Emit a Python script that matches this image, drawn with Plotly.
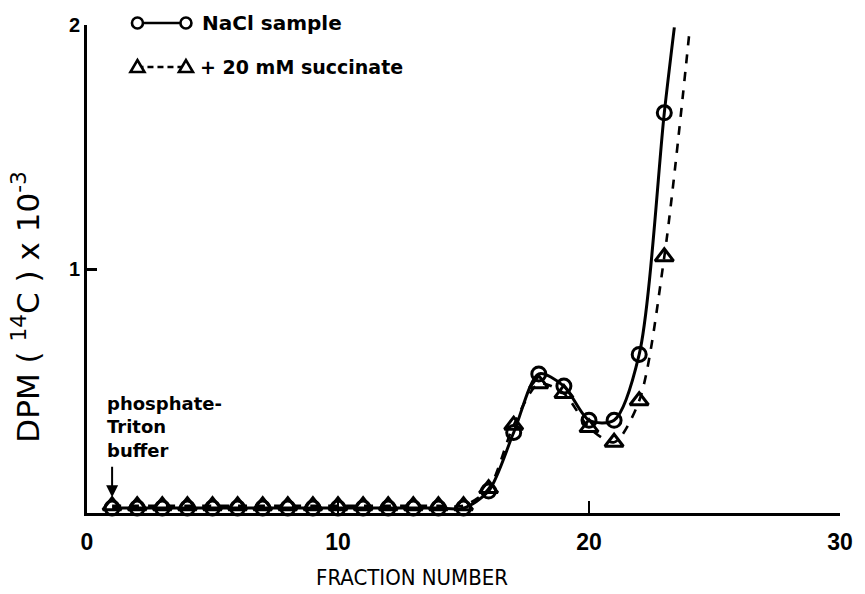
import plotly.graph_objects as go

fractions = list(range(1, 24))
nacl = [0.02, 0.02, 0.02, 0.02, 0.02, 0.02, 0.02, 0.02, 0.02, 0.02, 0.02, 0.02, 0.02, 0.02, 0.02,
        0.09, 0.33, 0.57, 0.52, 0.38, 0.38, 0.65, 1.64]
succinate = [0.03, 0.03, 0.03, 0.03, 0.03, 0.03, 0.03, 0.03, 0.03, 0.03, 0.03, 0.03, 0.03, 0.03, 0.03,
             0.10, 0.36, 0.53, 0.49, 0.35, 0.29, 0.46, 1.05]
# curve continuation beyond the last measured fraction (line only)
nacl_tail_x = [23.4]
nacl_tail_y = [1.99]
succ_tail_x = [24.0]
succ_tail_y = [1.97]

x_ticks = [0, 10, 20, 30]
y_ticks = [1, 2]

W, H = 865, 594
L, R, T, B = 87, 17, 25, 81
pw, ph = W - L - R, H - T - B

def px(x):
    return (x - L) / pw

def py(y):
    return (H - B - y) / ph

fig = go.Figure()

# lines
fig.add_trace(go.Scatter(x=fractions + succ_tail_x, y=succinate + succ_tail_y, mode="lines",
                         line=dict(color="black", width=2.6, dash="dash", shape="spline", smoothing=0.8),
                         showlegend=False, hoverinfo="skip"))
fig.add_trace(go.Scatter(x=fractions + nacl_tail_x, y=nacl + nacl_tail_y, mode="lines",
                         line=dict(color="black", width=3, shape="spline", smoothing=0.8),
                         showlegend=False, hoverinfo="skip"))
# markers
fig.add_trace(go.Scatter(x=fractions, y=succinate, mode="markers", cliponaxis=False,
                         marker=dict(symbol="triangle-up-open", size=16, color="black", line=dict(width=3)),
                         name="+ 20 mM succinate", showlegend=False))
fig.add_trace(go.Scatter(x=fractions, y=nacl, mode="markers", cliponaxis=False,
                         marker=dict(symbol="circle-open", size=14, color="black", line=dict(width=3)),
                         name="NaCl sample", showlegend=False))

# custom legend drawn with paper-anchored shapes
lx0, lx1 = px(138), px(187)
ly1, ly2 = py(23), py(67)
shapes = [
    dict(type="line", xref="paper", yref="paper", x0=lx0, x1=lx1, y0=ly1, y1=ly1,
         line=dict(color="black", width=2.6)),
    dict(type="line", xref="paper", yref="paper", x0=lx0, x1=lx1, y0=ly2, y1=ly2,
         line=dict(color="black", width=2.4, dash="6px,4px")),
]
for xa in (lx0, lx1):
    shapes.append(dict(type="circle", xref="paper", yref="paper", xsizemode="pixel", ysizemode="pixel",
                       xanchor=xa, yanchor=ly1, x0=-5.5, x1=5.5, y0=-5.5, y1=5.5,
                       fillcolor="white", line=dict(color="black", width=2.6)))
    shapes.append(dict(type="path", xref="paper", yref="paper", xsizemode="pixel", ysizemode="pixel",
                       xanchor=xa, yanchor=ly2, path="M -7,-5 L 7,-5 L 0,7 Z",
                       fillcolor="white", line=dict(color="black", width=2.6)))

font_main = "Liberation Sans, Arial, sans-serif"
font_wide = "DejaVu Sans, Verdana, sans-serif"
font_cond = "DejaVu Sans Condensed, Liberation Sans, sans-serif"

annotations = [
    dict(xref="paper", yref="paper", x=px(201), y=ly1, text="NaCl sample", showarrow=False,
         xanchor="left", yanchor="middle", font=dict(size=20, family=font_wide, color="black", weight="bold")),
    dict(xref="paper", yref="paper", x=px(199), y=ly2, text="+ 20 mM succinate", showarrow=False,
         xanchor="left", yanchor="middle", font=dict(size=19, family=font_wide, color="black", weight="bold")),
    dict(xref="paper", yref="paper", x=px(105), y=py(391), text="phosphate-<br>Triton<br>buffer",
         showarrow=False, xanchor="left", yanchor="top", align="left",
         font=dict(size=18, family=font_wide, color="black", weight="bold")),
    dict(xref="x", yref="y", x=1, y=0.065, text="", showarrow=True, arrowhead=2, arrowsize=1.2,
         arrowwidth=2, arrowcolor="black", ax=0, ay=-32),
    dict(xref="paper", yref="paper", x=px(415), y=py(577), text="FRACTION NUMBER", showarrow=False,
         xanchor="center", yanchor="middle", font=dict(size=22, family=font_cond, color="black")),
    dict(xref="paper", yref="paper", x=px(25), y=py(307),
         text="DPM ( <sup>14</sup>C ) x 10<sup>-3</sup>", showarrow=False, textangle=-90,
         xanchor="center", yanchor="middle", font=dict(size=31, family=font_wide, color="black")),
]

fig.update_layout(
    width=W, height=H,
    margin=dict(l=L, r=R, t=T, b=B),
    paper_bgcolor="white", plot_bgcolor="white",
    font=dict(family=font_main, color="black"),
    annotations=annotations,
    shapes=shapes,
    xaxis=dict(range=[0, 30], tickvals=x_ticks, ticktext=[str(v) for v in x_ticks],
               showgrid=False, zeroline=False, showline=True, linecolor="black", linewidth=3,
               ticks="inside", ticklen=12, tickwidth=2, tickcolor="black", ticklabelstandoff=6,
               tickfont=dict(size=23, family=font_main, weight="bold")),
    yaxis=dict(range=[0, 2], tickvals=y_ticks, ticktext=[str(v) for v in y_ticks],
               showgrid=False, zeroline=False, showline=True, linecolor="black", linewidth=3,
               ticks="inside", ticklen=10, tickwidth=2.5, tickcolor="black",
               tickfont=dict(size=20, family=font_main, weight="bold")),
)

fig.write_html("out.html")
